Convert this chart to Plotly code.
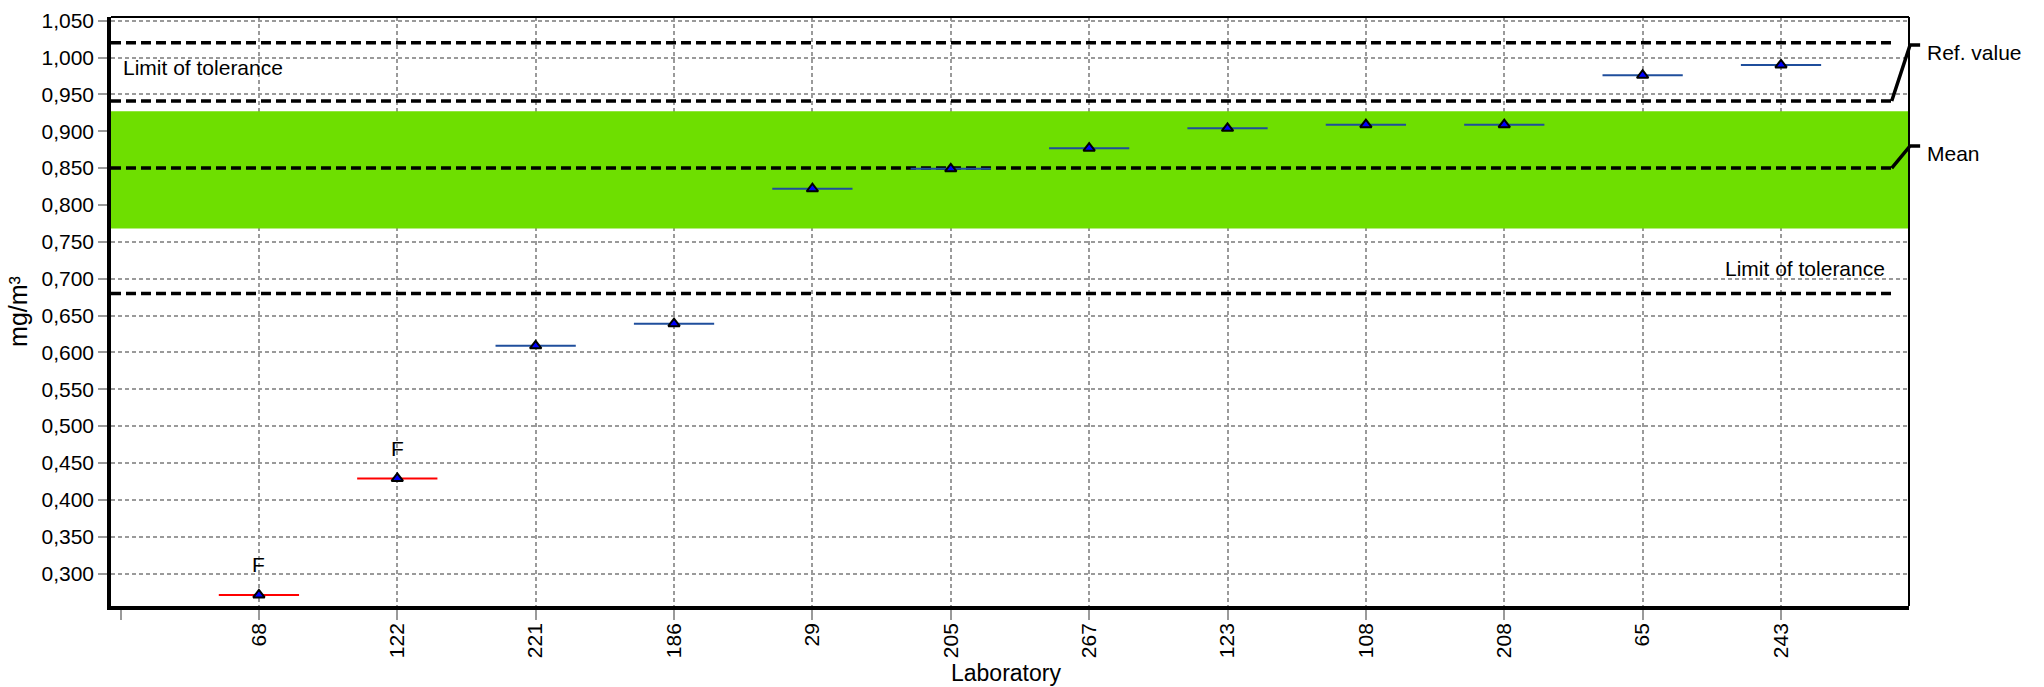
import plotly.graph_objects as go

# Laboratory codes in plotted order and their reported results (mg/m³)
laboratories = ["68", "122", "221", "186", "29", "205", "267", "123", "108", "208", "65", "243"]
results = [0.271, 0.429, 0.609, 0.639, 0.822, 0.849, 0.877, 0.904, 0.909, 0.909, 0.976, 0.990]
flags = ["F", "F", "", "", "", "", "", "", "", "", "", ""]

# Reference levels
ref_value = 0.941
mean_value = 0.850
tolerance_low = 0.680
tolerance_high = 1.020
band_low = 0.768
band_high = 0.927

# Axis ranges and styling constants
Y_RANGE = [0.256, 1.055]
X_RANGE = [-0.069, 12.925]
LINE_END_X = 12.80
BAR_HALF = 0.29
FONT = "Arial, Liberation Sans, sans-serif"
GRID = "#9a9a9a"
GREEN = "#6EDF00"
BAR_BLUE = "#1F4E9C"

positions = list(range(1, len(laboratories) + 1))


def ypaper(v):
    return (v - Y_RANGE[0]) / (Y_RANGE[1] - Y_RANGE[0])


fig = go.Figure()

ok_x = [p for p, f in zip(positions, flags) if not f]
ok_y = [v for v, f in zip(results, flags) if not f]
bad_x = [p for p, f in zip(positions, flags) if f]
bad_y = [v for v, f in zip(results, flags) if f]

marker = dict(symbol="triangle-up", size=10, color="#0000FF", line=dict(color="black", width=2))

fig.add_trace(go.Scatter(
    x=ok_x, y=ok_y, mode="markers", marker=marker, showlegend=False,
    error_x=dict(type="constant", value=BAR_HALF, width=0, color=BAR_BLUE, thickness=2),
))
fig.add_trace(go.Scatter(
    x=bad_x, y=bad_y, mode="markers", marker=marker, showlegend=False,
    error_x=dict(type="constant", value=BAR_HALF, width=0, color="#FF0000", thickness=2),
))

shapes = []
# acceptance band
shapes.append(dict(type="rect", xref="x", yref="y", x0=X_RANGE[0], x1=X_RANGE[1],
                   y0=band_low, y1=band_high, fillcolor=GREEN, line=dict(width=0), layer="between"))
# dashed reference levels
for lvl in [tolerance_high, ref_value, mean_value, tolerance_low]:
    shapes.append(dict(type="line", xref="x", yref="y", x0=X_RANGE[0], x1=LINE_END_X,
                       y0=lvl, y1=lvl, line=dict(color="black", width=3.5, dash="10px,5px"),
                       layer="between"))

# leader lines to the right-hand labels
x_start = (LINE_END_X - X_RANGE[0]) / (X_RANGE[1] - X_RANGE[0])
for lvl, top in [(ref_value, 1.017), (mean_value, 0.880)]:
    shapes.append(dict(type="path", xref="paper", yref="paper",
                       path=f"M {x_start},{ypaper(lvl)} L 1.0006,{ypaper(top)} L 1.0062,{ypaper(top)}",
                       line=dict(color="black", width=3.5)))

# top and right frame
shapes.append(dict(type="line", xref="paper", yref="paper", x0=0, x1=1, y0=1, y1=1,
                   line=dict(color="black", width=2)))
shapes.append(dict(type="line", xref="paper", yref="paper", x0=1, x1=1, y0=0, y1=1,
                   line=dict(color="black", width=2)))

annotations = [
    dict(text="Limit of tolerance", xref="paper", yref="y", x=0.0055, y=0.987,
         xanchor="left", yanchor="middle", showarrow=False),
    dict(text="Limit of tolerance", xref="paper", yref="y", x=0.9878, y=0.714,
         xanchor="right", yanchor="middle", showarrow=False),
    dict(text="Ref. value", xref="paper", yref="y", x=1.0089, y=1.0074,
         xanchor="left", yanchor="middle", showarrow=False),
    dict(text="Mean", xref="paper", yref="y", x=1.0089, y=0.870,
         xanchor="left", yanchor="middle", showarrow=False),
    # x-axis title
    dict(text="Laboratory", xref="paper", yref="paper", x=0.4975, y=0, yshift=-67,
         xanchor="center", yanchor="middle", showarrow=False, font=dict(size=23)),
]
for p, v, f in zip(positions, results, flags):
    if f:
        annotations.append(dict(text=f, x=p, y=v, xref="x", yref="y", yshift=30,
                                showarrow=False, xanchor="center", yanchor="middle"))

fig.update_layout(
    width=2044, height=687,
    margin=dict(l=111, r=135, t=17, b=81),
    paper_bgcolor="white", plot_bgcolor="white",
    font=dict(family=FONT, size=21, color="black"),
    separators=",.",
    shapes=shapes, annotations=annotations,
    showlegend=False,
)

fig.update_xaxes(
    range=X_RANGE, tickmode="array", tickvals=positions, ticktext=laboratories,
    tickangle=-90, ticks="outside", ticklen=10, tickwidth=2, tickcolor=GRID,
    ticklabelstandoff=-5,
    showgrid=True, gridcolor=GRID, gridwidth=1.5, griddash="4px,3px",
    showline=True, linecolor="black", linewidth=3.5, zeroline=False,
    minor=dict(tickmode="array", tickvals=[0], ticks="outside", ticklen=10,
               tickwidth=2, tickcolor=GRID, showgrid=False),
    automargin=False,
)
fig.update_yaxes(
    range=Y_RANGE, tickmode="linear", tick0=0.3, dtick=0.05, tickformat=".3f",
    ticks="outside", ticklen=9, tickwidth=2, tickcolor=GRID,
    showgrid=True, gridcolor=GRID, gridwidth=1.5, griddash="4px,3px",
    showline=True, linecolor="black", linewidth=3.5, zeroline=False,
    title=dict(text="mg/m³", standoff=8),
    automargin=False,
)

fig.write_html("out.html")
